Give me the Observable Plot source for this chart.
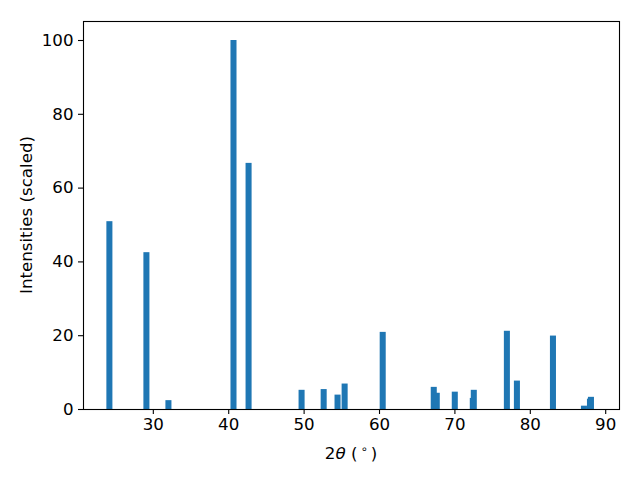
<!DOCTYPE html>
<html>
<head>
<meta charset="utf-8">
<script src="https://cdn.jsdelivr.net/npm/d3@7"></script>
<script src="https://cdn.jsdelivr.net/npm/@observablehq/plot@0.6"></script>
<style>
  html, body { margin: 0; padding: 0; background: white; }
  #chart svg { display: block; }
</style>
</head>
<body>
<div id="chart"></div>
<script>
// 2-theta peak positions (degrees) and scaled intensities
const twoTheta = [24.24, 29.15, 32.07, 40.70, 42.70, 49.73, 52.66, 54.50, 55.44, 60.49,
                  67.26, 67.66, 70.05, 72.44, 72.57, 76.96, 78.29, 83.07, 87.18, 87.98, 88.11];
const intensity = [50.9, 42.5, 2.4, 100, 66.7, 5.2, 5.4, 3.9, 6.9, 20.9,
                   6.0, 4.4, 4.7, 3.0, 5.2, 21.2, 7.7, 19.9, 0.9, 2.8, 3.3];
const xTicks = [30, 40, 50, 60, 70, 80, 90];
const yTicks = [0, 20, 40, 60, 80, 100];
const barWidth = 0.8;

const data = twoTheta.map((x, i) => ({x, y: intensity[i]}));

const W = 640, H = 480;
const mL = 83, mR = 21, mT = 21, mB = 71;

const chart = Plot.plot({
  width: W,
  height: H,
  marginLeft: mL,
  marginRight: mR,
  marginTop: mT,
  marginBottom: mB,
  style: {fontFamily: "DejaVu Sans", fontSize: "16.67px", color: "black", background: "white"},
  x: {domain: [20.74, 91.83]},
  y: {domain: [0, 105.15]},
  marks: [
    Plot.rectY(data, {x1: d => d.x - barWidth / 2, x2: d => d.x + barWidth / 2, y1: 0, y2: "y", fill: "#1f77b4"}),
    Plot.axisX({ticks: xTicks, tickSize: 5, tickPadding: 4, label: null, strokeWidth: 1.1, fontSize: 16.67}),
    Plot.axisY({ticks: yTicks, tickSize: 5, tickPadding: 5, label: null, strokeWidth: 1.1, fontSize: 16.67}),
    Plot.frame({stroke: "black", strokeWidth: 1.1})
  ]
});

document.getElementById("chart").appendChild(chart);

const svg = d3.select(chart);
// x label: 2θ ( ° )
const xl = svg.append("text")
  .attr("x", 351)
  .attr("y", 459)
  .attr("text-anchor", "middle")
  .attr("font-family", "DejaVu Sans")
  .attr("font-size", "16.67px")
  .attr("fill", "black");
xl.append("tspan").text("2");
xl.append("tspan").attr("font-style", "italic").text("θ");
xl.append("tspan").text(" (");
xl.append("tspan").attr("font-size", "11.5px").attr("dx", "3").attr("dy", "-6").text("∘");
xl.append("tspan").attr("dx", "3").attr("dy", "6").text(")");

// y label
svg.append("text")
  .attr("transform", `translate(32,${mT + (H - mT - mB) / 2}) rotate(-90)`)
  .attr("text-anchor", "middle")
  .attr("font-family", "DejaVu Sans")
  .attr("font-size", "16.67px")
  .attr("fill", "black")
  .text("Intensities (scaled)");
</script>
</body>
</html>
